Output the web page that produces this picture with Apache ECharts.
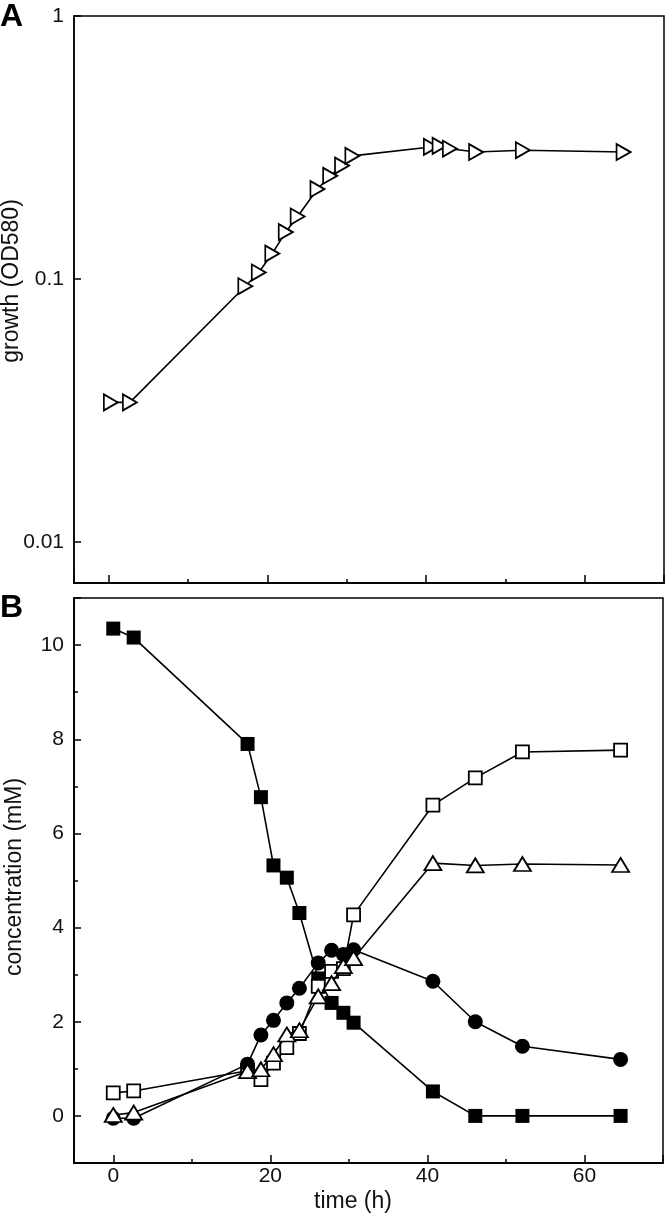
<!DOCTYPE html>
<html>
<head>
<meta charset="utf-8">
<title>growth and concentration</title>
<script src="https://cdn.jsdelivr.net/npm/echarts@6/dist/echarts.min.js"></script>
<style>
  html, body { margin: 0; padding: 0; background: #fff; }
  #chart { width: 666px; height: 1220px; }
</style>
</head>
<body>
<div id="chart"></div>
<script>
// panel A: growth (OD580), log scale
var timeA = [0.25, 2.65, 17.2, 18.9, 20.6, 22.3, 23.8, 26.3, 27.9, 29.4, 30.7, 40.6, 41.7, 43.0, 46.3, 52.2, 64.9];
var growth = [0.034, 0.034, 0.094, 0.106, 0.125, 0.151, 0.173, 0.220, 0.247, 0.270, 0.294, 0.318, 0.321, 0.313, 0.304, 0.309, 0.304];

// panel B: concentration (mM)
var timeB = [0, 2.6, 17.1, 18.8, 20.4, 22.1, 23.7, 26.1, 27.8, 29.3, 30.6, 40.7, 46.1, 52.1, 64.6];
var filledSquare = [10.35, 10.16, 7.90, 6.77, 5.32, 5.06, 4.31, 2.92, 2.40, 2.19, 1.98, 0.52, 0, 0, 0];
var openSquare = [0.49, 0.53, 0.96, 0.77, 1.12, 1.45, 1.75, 2.75, 3.07, 3.13, 4.27, 6.60, 7.18, 7.73, 7.77];
var filledCircle = [-0.05, -0.05, 1.10, 1.72, 2.03, 2.40, 2.71, 3.25, 3.52, 3.43, 3.53, 2.86, 2.00, 1.48, 1.20];
var openTriangle = [0.02, 0.07, 0.95, 0.99, 1.31, 1.73, 1.82, 2.54, 2.82, 3.18, 3.35, 5.37, 5.32, 5.35, 5.33];

var black = '#000';
var font = 'Liberation Sans, Arial, sans-serif';

function pairs(xs, ys) {
  return xs.map(function (t, i) { return [t, ys[i]]; });
}

// one value axis; ticks inward, no split lines
function axis(grid, pos, min, max, split, tickLen, label) {
  return {
    gridIndex: grid, type: 'value', position: pos,
    min: min, max: max, splitNumber: split,
    axisLine: { onZero: false, lineStyle: { color: black, width: 1.5 } },
    axisTick: { inside: true, length: tickLen, lineStyle: { color: black, width: 1.5 } },
    axisLabel: label || { show: false },
    splitLine: { show: false }
  };
}

function line(xi, yi, xs, ys, symbol, size, filled, rotate, z) {
  return {
    type: 'line', xAxisIndex: xi, yAxisIndex: yi,
    data: pairs(xs, ys),
    symbol: symbol, symbolSize: size, symbolRotate: rotate,
    showSymbol: true, z: z, silent: true,
    lineStyle: { color: black, width: 1.6 },
    itemStyle: { color: filled ? black : '#fff', borderColor: black, borderWidth: filled ? 0 : 1.8 },
    emphasis: { disabled: true }
  };
}

function isPow10(v) {
  var l = Math.log10(v);
  return Math.abs(l - Math.round(l)) < 1e-6;
}

var chart = echarts.init(document.getElementById('chart'));

var option = {
  animation: false,
  backgroundColor: '#fff',
  grid: [
    { left: 74, right: 2, top: 16, height: 567, show: true, borderColor: black, borderWidth: 1.5 },
    { left: 74, right: 2, top: 598, height: 565, show: true, borderColor: black, borderWidth: 1.5 }
  ],
  xAxis: [
    axis(0, 'bottom', -4.4, 70, 7, 4),
    axis(0, 'bottom', -4.4, 70, 4, 8),
    axis(1, 'bottom', -5, 70, 7, 4),
    axis(1, 'bottom', -5, 70, 4, 8, {
      margin: 3, fontFamily: font, fontSize: 21, color: '#111',
      formatter: function (v) { return v % 20 === 0 ? String(v) : ''; }
    })
  ],
  yAxis: [
    {
      gridIndex: 0, type: 'log', logBase: 10, position: 'left',
      min: 0.007, max: 1,
      axisLine: { onZero: false, lineStyle: { color: black, width: 1.5 } },
      axisTick: { inside: true, length: 7, lineStyle: { color: black, width: 1.5 } },
      axisLabel: {
        margin: 10, fontFamily: font, fontSize: 21, color: '#111',
        showMinLabel: false,
        formatter: function (v) { return isPow10(v) ? String(+v.toPrecision(3)) : ''; }
      },
      splitLine: { show: false }
    },
    axis(1, 'left', -1, 11, 12, 4),
    axis(1, 'left', -1, 11, 6, 7, {
      margin: 10, fontFamily: font, fontSize: 21, color: '#111',
      formatter: function (v) { return v % 2 === 0 ? String(v) : ''; }
    })
  ],
  graphic: [
    { type: 'text', x: 0, y: 17, style: { text: 'A', fontFamily: font, fontSize: 32, fontWeight: 'bold', fill: black, align: 'left', verticalAlign: 'middle' } },
    { type: 'text', x: 0, y: 608, style: { text: 'B', fontFamily: font, fontSize: 32, fontWeight: 'bold', fill: black, align: 'left', verticalAlign: 'middle' } },
    { type: 'text', x: 12, y: 281, rotation: Math.PI / 2, style: { text: 'growth (OD580)', fontFamily: font, fontSize: 23, fill: '#111', align: 'center', verticalAlign: 'middle' } },
    { type: 'text', x: 15, y: 877, rotation: Math.PI / 2, style: { text: 'concentration (mM)', fontFamily: font, fontSize: 23, fill: '#111', align: 'center', verticalAlign: 'middle' } },
    { type: 'text', x: 353, y: 1202, style: { text: 'time (h)', fontFamily: font, fontSize: 23, fill: '#111', align: 'center', verticalAlign: 'middle' } }
  ],
  series: [
    line(0, 0, timeA, growth, 'triangle', [16, 14], false, -90, 5),
    line(2, 1, timeB, filledSquare, 'rect', 14, true, 0, 2),
    line(2, 1, timeB, openSquare, 'rect', 13, false, 0, 3),
    line(2, 1, timeB, filledCircle, 'circle', 15, true, 0, 4),
    line(2, 1, timeB, openTriangle, 'triangle', [17, 14], false, 0, 5)
  ]
};

chart.setOption(option);
</script>
</body>
</html>
